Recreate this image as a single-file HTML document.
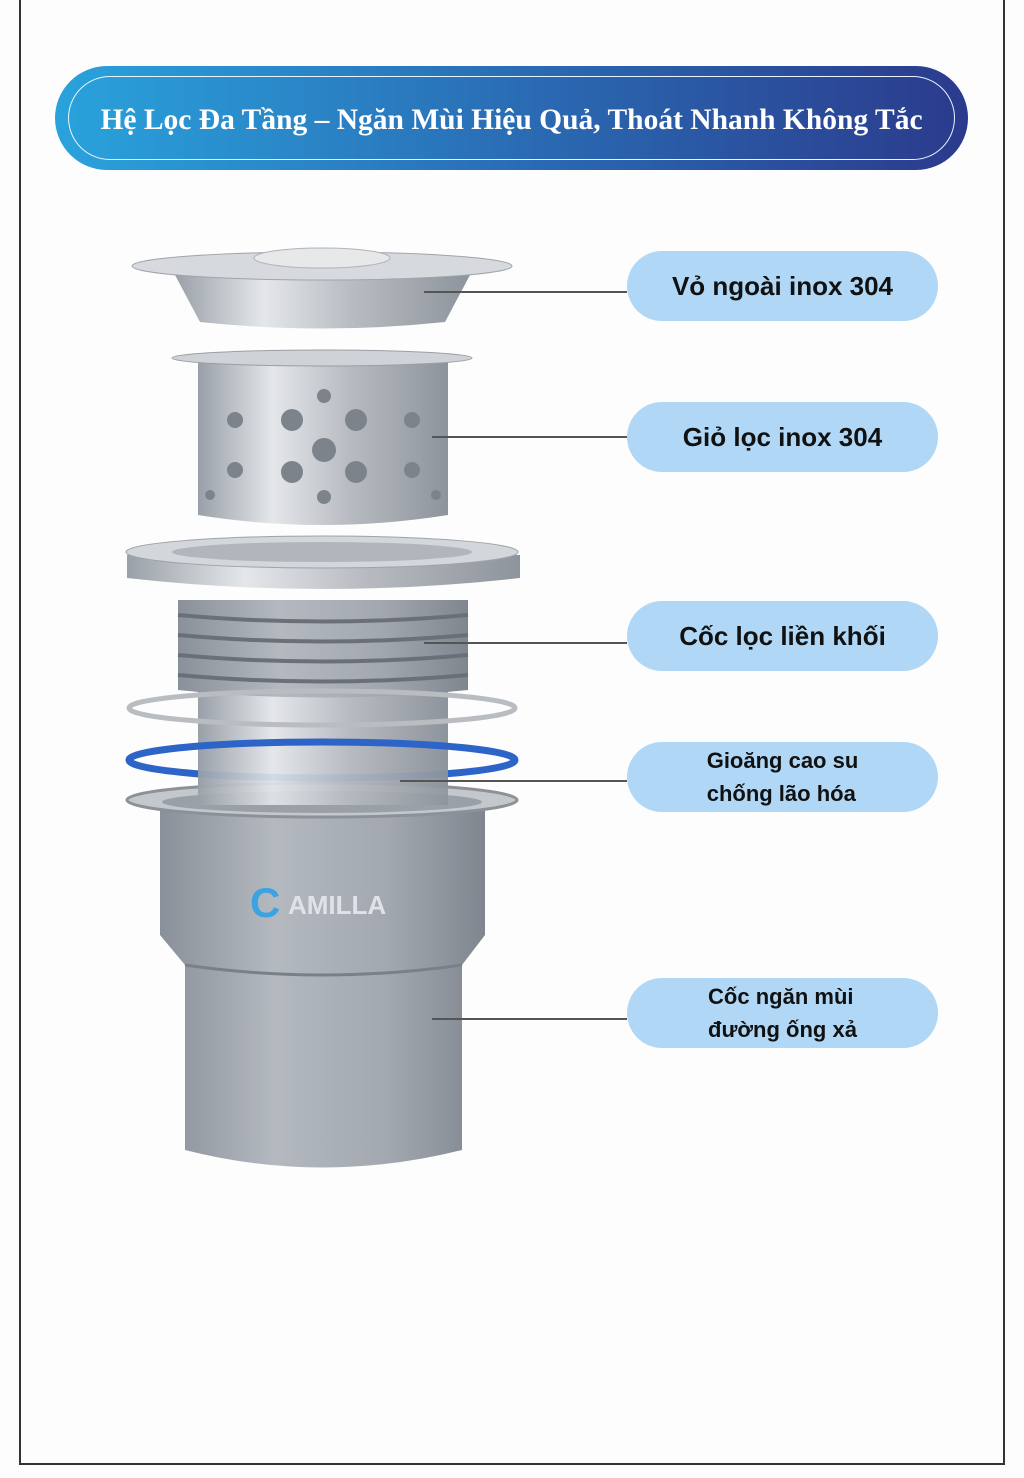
<!DOCTYPE html>
<html><head><meta charset="utf-8"><style>
*{margin:0;padding:0;box-sizing:border-box}
body{width:1024px;height:1478px;background:#fdfdfd;position:relative;overflow:hidden;font-family:"Liberation Sans",sans-serif}
.frame{position:absolute;left:19px;top:-5px;width:986px;height:1470px;border:2px solid #333;border-top:none}
.hdr{position:absolute;left:55px;top:66px;width:913px;height:104px;border-radius:52px;background:linear-gradient(90deg,#29a3dc,#2a6db5 50%,#2b3a8c)}
.hdr .in{position:absolute;left:13px;top:10px;right:13px;bottom:10px;border:1.5px solid #e8f4ff;border-radius:42px;display:flex;align-items:center;justify-content:center;color:#fff;font-family:"Liberation Serif",serif;font-weight:bold;font-size:29.5px;padding-top:4px}
.pill{position:absolute;left:627px;width:311px;height:70px;border-radius:35px;background:#b0d8f6;display:flex;align-items:center;justify-content:center;font-weight:bold;color:#111;font-size:26px;text-align:left}
.pill.s{font-size:22px;line-height:33px}
.ln{position:absolute;height:1.5px;background:#555}
</style></head><body>
<div class="frame"></div>
<div class="hdr"><div class="in">Hệ Lọc Đa Tầng – Ngăn Mùi Hiệu Quả, Thoát Nhanh Không Tắc</div></div>

<svg style="position:absolute;left:0;top:0" width="1024" height="1478">
<defs>
<linearGradient id="m" x1="0" x2="1"><stop offset="0" stop-color="#9aa0a8"/><stop offset=".3" stop-color="#e4e7ea"/><stop offset=".6" stop-color="#b8bcc2"/><stop offset="1" stop-color="#8e949c"/></linearGradient>
<linearGradient id="c" x1="0" x2="1"><stop offset="0" stop-color="#8a9099"/><stop offset=".35" stop-color="#b4b9c0"/><stop offset=".7" stop-color="#a3a8b0"/><stop offset="1" stop-color="#80868f"/></linearGradient>
</defs>
<path d="M175 275 L200 322 Q322 335 445 322 L470 275 Z" fill="url(#m)"/>
<ellipse cx="322" cy="266" rx="190" ry="14" fill="#d6d9dd" stroke="#a0a5ab"/>
<ellipse cx="322" cy="258" rx="68" ry="10" fill="#e6e8ea" stroke="#b0b4b8"/>
<path d="M198 362 L198 515 Q322 535 448 515 L448 362 Z" fill="url(#m)"/>
<ellipse cx="322" cy="358" rx="150" ry="8" fill="#cfd2d6" stroke="#9a9fa5"/>
<g fill="#7d838b">
<circle cx="292" cy="420" r="11"/><circle cx="356" cy="420" r="11"/><circle cx="324" cy="450" r="12"/><circle cx="292" cy="472" r="11"/><circle cx="356" cy="472" r="11"/><circle cx="324" cy="497" r="7"/><circle cx="324" cy="396" r="7"/>
<circle cx="235" cy="420" r="8"/><circle cx="235" cy="470" r="8"/><circle cx="412" cy="420" r="8"/><circle cx="412" cy="470" r="8"/><circle cx="210" cy="495" r="5"/><circle cx="436" cy="495" r="5"/>
</g>
<rect x="198" y="690" width="250" height="130" fill="url(#m)"/>
<path d="M178 600 L468 600 L468 690 Q322 705 178 690 Z" fill="url(#c)"/>
<g stroke="#6b7078" stroke-width="4" fill="none">
<path d="M178 615 Q322 628 468 615"/><path d="M178 635 Q322 648 468 635"/><path d="M178 655 Q322 668 468 655"/><path d="M178 675 Q322 688 468 675"/></g>
<path d="M127 555 L127 578 Q322 600 520 578 L520 555 Z" fill="url(#m)"/>
<ellipse cx="322" cy="552" rx="196" ry="16" fill="#d3d6da" stroke="#9ea3a9"/>
<ellipse cx="322" cy="552" rx="150" ry="10" fill="#b2b6bc"/>
<ellipse cx="322" cy="708" rx="193" ry="17" fill="none" stroke="#b9bdc2" stroke-width="5"/>
<ellipse cx="322" cy="760" rx="193" ry="18" fill="none" stroke="#2d64c8" stroke-width="7"/>
<path d="M160 810 L160 935 L185 965 L185 1150 Q322 1185 462 1150 L462 965 L485 935 L485 810 Z" fill="url(#c)"/>
<path d="M185 965 Q322 985 462 965" stroke="#7a8088" stroke-width="3" fill="none"/>
<ellipse cx="322" cy="800" rx="195" ry="17" fill="#c4c8cd" stroke="#8c9198" stroke-width="3"/>
<ellipse cx="322" cy="802" rx="160" ry="11" fill="#9aa0a7"/>
<rect x="198" y="770" width="250" height="35" fill="url(#m)" opacity=".9"/>
<text x="250" y="917" font-family="Liberation Sans" font-weight="bold" font-size="42" fill="#3aa3e0">C</text>
<text x="288" y="914" font-family="Liberation Sans" font-weight="bold" font-size="26" fill="#dfe3e8">AMILLA</text>
</svg>

<div class="ln" style="left:424px;top:291px;width:203px"></div>
<div class="ln" style="left:432px;top:436px;width:195px"></div>
<div class="ln" style="left:424px;top:642px;width:203px"></div>
<div class="ln" style="left:400px;top:780px;width:227px"></div>
<div class="ln" style="left:432px;top:1018px;width:195px"></div>

<div class="pill" style="top:251px">Vỏ ngoài inox 304</div>
<div class="pill" style="top:402px">Giỏ lọc inox 304</div>
<div class="pill" style="top:601px">Cốc lọc liền khối</div>
<div class="pill s" style="top:742px">Gioăng cao su<br>chống lão hóa</div>
<div class="pill s" style="top:978px">Cốc ngăn mùi<br>đường ống xả</div>
</body></html>
